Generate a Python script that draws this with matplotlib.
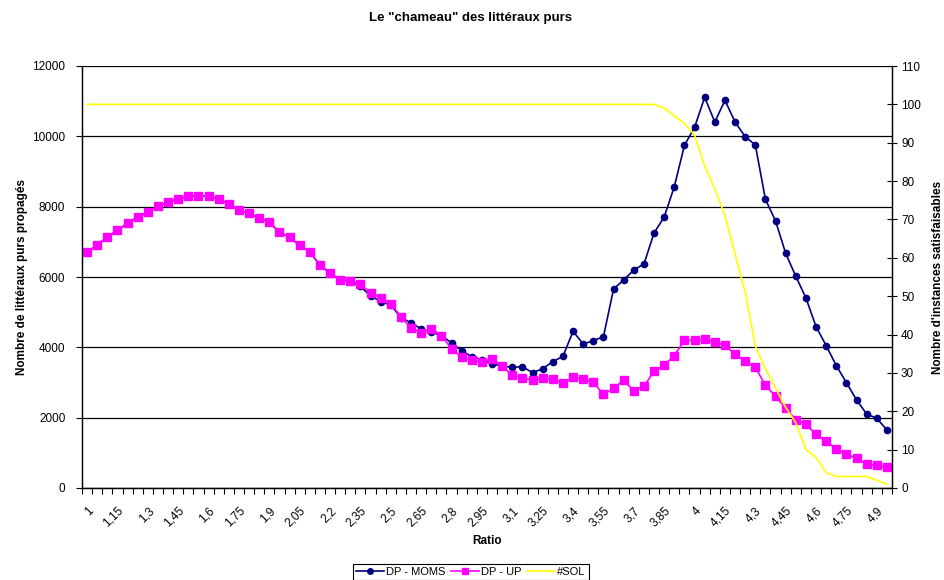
import matplotlib
matplotlib.use("Agg")
import matplotlib.pyplot as plt
from matplotlib.lines import Line2D

plt.rcParams['font.family'] = ['Liberation Sans', 'DejaVu Sans']

ratios = ["1", "1,05", "1,1", "1,15", "1,2", "1,25", "1,3", "1,35", "1,4", "1,45",
          "1,5", "1,55", "1,6", "1,65", "1,7", "1,75", "1,8", "1,85", "1,9", "1,95",
          "2", "2,05", "2,1", "2,15", "2,2", "2,25", "2,3", "2,35", "2,4", "2,45",
          "2,5", "2,55", "2,6", "2,65", "2,7", "2,75", "2,8", "2,85", "2,9", "2,95",
          "3", "3,05", "3,1", "3,15", "3,2", "3,25", "3,3", "3,35", "3,4", "3,45",
          "3,5", "3,55", "3,6", "3,65", "3,7", "3,75", "3,8", "3,85", "3,9", "3,95",
          "4", "4,05", "4,1", "4,15", "4,2", "4,25", "4,3", "4,35", "4,4", "4,45",
          "4,5", "4,55", "4,6", "4,65", "4,7", "4,75", "4,8", "4,85", "4,9", "4,95"]

dp_moms = [6700, 6910, 7130, 7330, 7530, 7710, 7840, 8010, 8120, 8220,
           8295, 8305, 8295, 8220, 8075, 7895, 7810, 7670, 7555, 7280,
           7130, 6900, 6720, 6330, 6115, 5915, 5890, 5730, 5468, 5298,
           5204, 4843, 4701, 4521, 4445, 4322, 4132, 3904, 3734, 3649,
           3526, 3469, 3431, 3450, 3279, 3393, 3592, 3744, 4455, 4095,
           4189, 4303, 5659, 5915, 6199, 6370, 7251, 7706, 8569, 9744,
           10256, 11109, 10408, 11024, 10408, 9991, 9754, 8209, 7592, 6673,
           6020, 5403, 4588, 4047, 3479, 2995, 2502, 2104, 1981, 1649]

dp_up = [6700, 6910, 7130, 7330, 7530, 7710, 7840, 8010, 8120, 8220,
         8295, 8305, 8295, 8220, 8075, 7895, 7810, 7670, 7555, 7280,
         7130, 6900, 6720, 6330, 6115, 5915, 5890, 5790, 5554, 5412,
         5241, 4871, 4550, 4408, 4531, 4332, 3962, 3725, 3640, 3574,
         3678, 3460, 3205, 3128, 3071, 3137, 3090, 2977, 3148, 3100,
         3006, 2664, 2835, 3071, 2758, 2891, 3318, 3489, 3763, 4199,
         4199, 4228, 4143, 4058, 3802, 3603, 3431, 2920, 2607, 2266,
         1943, 1811, 1526, 1327, 1100, 967, 844, 673, 645, 588]

sol = [100] * 57 + [99, 97, 95, 92, 84, 78, 71, 61, 51,
                    37, 31, 26, 21, 17, 10, 8, 4, 3, 3,
                    3, 3, 2, 1]

left_ticks = [0, 2000, 4000, 6000, 8000, 10000, 12000]
right_ticks = [0, 10, 20, 30, 40, 50, 60, 70, 80, 90, 100, 110]

fig = plt.figure(figsize=(9.45, 5.8), dpi=100)
ax = fig.add_axes([82/945, 1-488/580, (892-82)/945, (488-66)/580])
ax2 = ax.twinx()

x = list(range(len(ratios)))

ax.set_ylim(0, 12000)
ax.set_yticks(left_ticks)
ax.set_yticklabels([str(v) for v in left_ticks])
ax.grid(axis='y', color='black', linewidth=0.9)
ax.set_axisbelow(True)

ax.plot(x, dp_moms, color='#000080', marker='o', markersize=4.5, linewidth=1.2,
        label='DP - MOMS', zorder=3)
ax.plot(x, dp_up, color='#FF00FF', marker='s', markersize=5.3, linewidth=1.2,
        label='DP - UP', zorder=4)

ax2.plot(x, sol, color='#FFFF00', linewidth=1.2, label='#SOL', zorder=2)
ax2.set_ylim(0, 110)
ax2.set_yticks(right_ticks)
ax2.set_yticklabels([str(v) for v in right_ticks])

ax.set_xlim(-0.5, len(ratios) - 0.5)
ax.set_xticks(x[::3])
ax.set_xticklabels(ratios[::3], rotation=45, ha='right', va='top',
                   rotation_mode='anchor', fontsize=8.5)
ax.set_xticks([i - 0.5 for i in range(len(ratios) + 1)], minor=True)
ax.tick_params(axis='x', which='major', length=0, pad=12)
ax.tick_params(axis='x', which='minor', length=4, direction='out', width=0.8)
ax.tick_params(axis='y', which='major', length=4, direction='out', labelsize=8.5,
               width=0.8, pad=8)
ax2.tick_params(axis='y', which='major', length=7, direction='inout', labelsize=8.5,
                width=0.8, pad=3)

for a in (ax, ax2):
    for s in a.spines.values():
        s.set_color('black')
        s.set_linewidth(0.9)
ax.spines['top'].set_visible(False)
ax2.spines['top'].set_visible(False)

ax.set_xlabel('Ratio', fontsize=8.5, fontweight='bold', labelpad=4)
ax.set_ylabel('Nombre de littéraux purs propagés', fontsize=8.5, fontweight='bold', labelpad=3)
ax2.set_ylabel("Nombre d'instances satisfaisables", fontsize=8.5, fontweight='bold', labelpad=8)

fig.text(471/945, 1-18/580, 'Le "chameau" des littéraux purs', ha='center', va='center',
         fontsize=9.5, fontweight='bold')

handles = [Line2D([], [], color='#000080', marker='o', markersize=4, linewidth=1.2),
           Line2D([], [], color='#FF00FF', marker='s', markersize=5, linewidth=1.2),
           Line2D([], [], color='#FFFF00', linewidth=1.2)]
leg = fig.legend(handles, ['DP - MOMS', 'DP - UP', '#SOL'], loc='center',
                 bbox_to_anchor=(471/945, 1-572/580), ncol=3, fontsize=8,
                 frameon=True, fancybox=False, edgecolor='black', framealpha=1,
                 handlelength=2.5, handletextpad=0.2, columnspacing=0.5,
                 borderpad=0.3)
leg.get_frame().set_linewidth(0.8)

fig.savefig('out.png', dpi=100)
